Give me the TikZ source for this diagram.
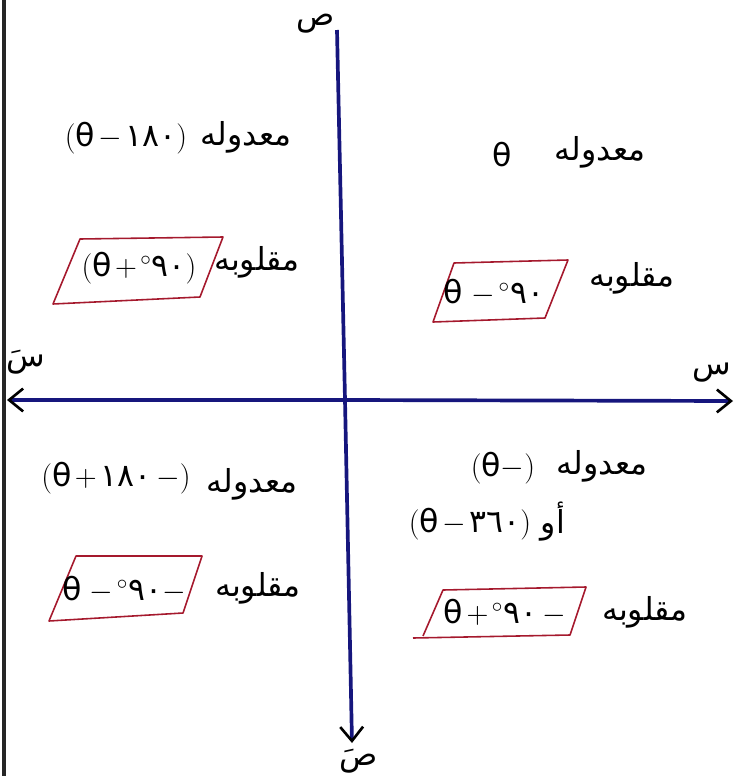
\documentclass[tikz,border=0pt]{standalone}
\usepackage{fontspec}
\setmainfont{DejaVu Sans}
\newfontfamily\arabicfont[Script=Arabic]{DejaVu Sans}
\TeXXeTstate=1
\usetikzlibrary{arrows.meta}
\definecolor{axisblue}{RGB}{22,22,125}
\definecolor{boxred}{RGB}{165,25,45}
\newcommand{\exprfont}{\fontsize{18}{22}\selectfont\medmuskip=2mu\relax\thickmuskip=3mu\relax}
\tikzset{
  axis/.style={line width=2.1pt, color=axisblue},
  axisarrow/.style={axis, -{Straight Barb[length=8pt,width=13pt,line width=1.5pt,color=black]}},
  rulebox/.style={draw=boxred, line width=0.9pt, line join=round},
  word/.style={font=\arabicfont\fontsize{18}{20}\selectfont, inner sep=0pt},
  expr/.style={font=\exprfont, inner sep=0pt},
  axislabel/.style={font=\arabicfont\fontsize{18}{20}\selectfont, inner sep=0pt}
}

\begin{document}
\begin{tikzpicture}[x=0.2mm, y=-0.2mm]
  \useasboundingbox (0,0) rectangle (736,776);

  % Page edge
  \draw[line width=2.2pt, color=black!85] (4,0) -- (4,776);

  % Axes
  \coordinate (ytop) at (337,30);
  \coordinate (ybot) at (352,743);
  \coordinate (xleft) at (7,400);
  \coordinate (xright) at (733,401);
  \coordinate (origin) at (345,400);
  \draw[axis] (ytop) -- (origin);
  \draw[axisarrow] (origin) -- (ybot);
  \draw[axisarrow] (origin) -- (xleft);
  \draw[axisarrow] (origin) -- (xright);
  \node[axislabel] (ylab) at (316,24) {\beginR ص\endR};
  \node[axislabel] (xlab) at (712,373) {\beginR س\endR};
  \node[axislabel] (xplab) at (26,362) {\beginR سَ\endR};
  \node[axislabel] (yplab) at (359,761) {\beginR صَ\endR};

  % First quadrant
  \node[word] (q1up) at (600,152) {\beginR معدوله\endR};
  \node[expr] (q1upexp) at (502,155) {θ};
  \node[word] (q1co) at (632,278) {\beginR مقلوبه\endR};
  \draw[rulebox] (454,263) -- (568,260) -- (545,318) -- (433,322) -- cycle;
  \node[expr] (q1coexp) at (494,293) {$\mbox{θ}\;-{}^{\circ}\mbox{٩٠}$};

  % Second quadrant
  \node[word] (q2up) at (246,137) {\beginR معدوله\endR};
  \node[expr] (q2upexp) at (126,138) {$(\mbox{θ}-\mbox{١٨٠})$};
  \node[word] (q2co) at (257,262) {\beginR مقلوبه\endR};
  \draw[rulebox] (80,239) -- (223,237) -- (200,297) -- (53,304) -- cycle;
  \node[expr] (q2coexp) at (139,268) {$(\mbox{θ}+{}^{\circ}\mbox{٩٠})$};

  % Third quadrant
  \node[word] (q3up) at (252,484) {\beginR معدوله\endR};
  \node[expr] (q3upexp) at (116,478) {$(\mbox{θ}+\mbox{١٨٠}\;-)$};
  \node[word] (q3co) at (258,588) {\beginR مقلوبه\endR};
  \draw[rulebox] (76,556) -- (202,556) -- (183,613) -- (49,621) -- cycle;
  \node[expr] (q3coexp) at (124,590) {$\mbox{θ}\;-{}^{\circ}\mbox{٩٠}{-}$};

  % Fourth quadrant
  \node[word] (q4up) at (602,466) {\beginR معدوله\endR};
  \node[expr] (q4upexp) at (503,468) {$(\mbox{θ}{-})$};
  \node[word] (q4or) at (553,522) {\beginR أو\endR};
  \node[expr] (q4orexp) at (470,524) {$(\mbox{θ}-\mbox{٣٦٠})$};
  \node[word] (q4co) at (645,612) {\beginR مقلوبه\endR};
  \draw[rulebox] (413,638) -- (570,635) -- (586,587) -- (443,590) -- (423,636);
  \node[expr] (q4coexp) at (505,613) {$\mbox{θ}+{}^{\circ}\mbox{٩٠}\;{-}$};
\end{tikzpicture}
\end{document}
